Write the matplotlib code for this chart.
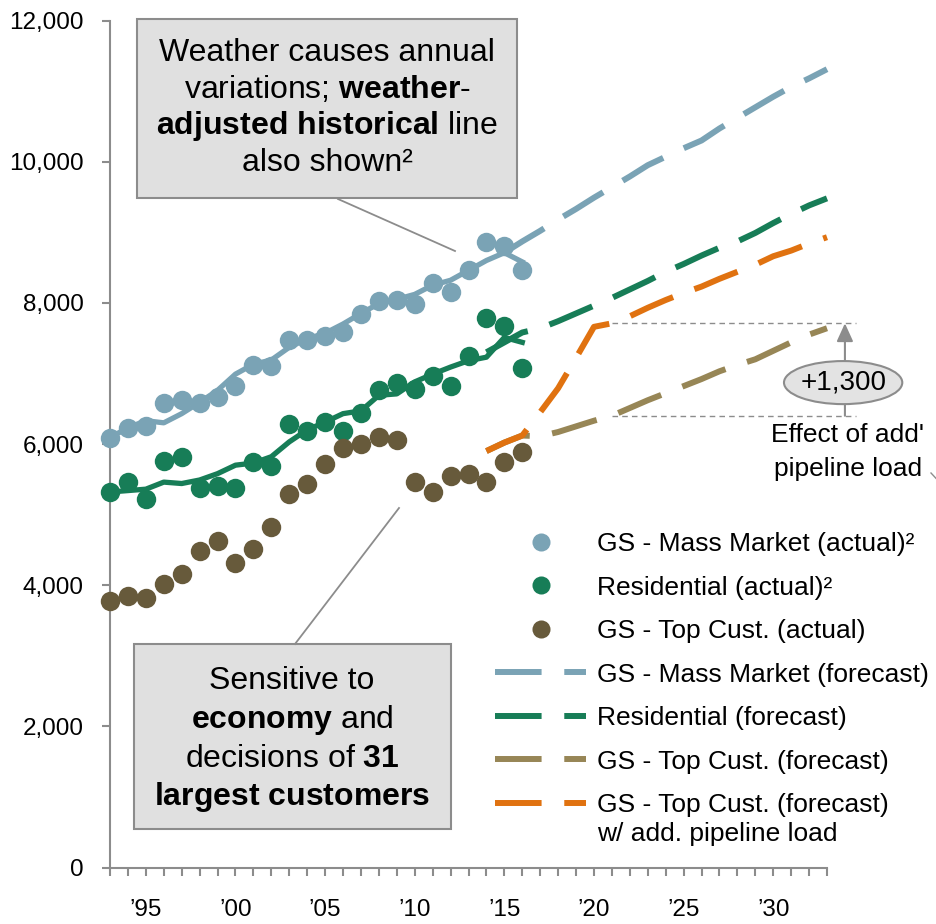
import numpy as np
import matplotlib.pyplot as plt
from matplotlib.lines import Line2D
from matplotlib.patches import Rectangle, Ellipse
from matplotlib.ticker import FuncFormatter

plt.rcParams['font.family'] = ['Liberation Sans', 'DejaVu Sans']
plt.rcParams['mathtext.fontset'] = 'custom'
plt.rcParams['mathtext.rm'] = 'Liberation Sans'
plt.rcParams['mathtext.bf'] = 'Liberation Sans:bold'
plt.rcParams['mathtext.it'] = 'Liberation Sans:italic'

# historical (1993-2016)
years_hist = list(range(1993, 2017))
mass_actual = [6090, 6220, 6250, 6580, 6630, 6580, 6670, 6820, 7120, 7100, 7470, 7470,
               7530, 7580, 7840, 8020, 8040, 7990, 8280, 8160, 8460, 8860, 8800, 8460]
mass_adj = [6090, 6230, 6330, 6300, 6430, 6590, 6760, 6990, 7130, 7190, 7370, 7490,
            7570, 7700, 7850, 7990, 8050, 8120, 8250, 8320, 8460, 8600, 8710, 8580]
res_actual = [5320, 5460, 5220, 5760, 5810, 5370, 5400, 5370, 5740, 5690, 6280, 6180,
              6310, 6190, 6440, 6760, 6860, 6780, 6960, 6820, 7240, 7780, 7670, 7070]
res_adj = [5320, 5340, 5360, 5460, 5440, 5490, 5580, 5700, 5730, 5820, 6030, 6200,
           6310, 6430, 6470, 6690, 6710, 6880, 6990, 7090, 7180, 7230, 7510, 7440]
top_actual = [3780, 3850, 3820, 4020, 4160, 4480, 4620, 4310, 4510, 4820, 5290, 5430,
              5720, 5950, 6000, 6100, 6060, 5460, 5320, 5550, 5580, 5460, 5740, 5880]

# forecasts
years_mass_fc = list(range(2015, 2034))
mass_fc = [8710, 8870, 9020, 9180, 9330, 9490, 9640, 9790, 9950, 10070, 10190, 10300,
           10470, 10620, 10770, 10920, 11060, 11180, 11310]
years_fc = list(range(2014, 2034))
res_fc = [7300, 7440, 7580, 7640, 7740, 7850, 7960, 8070, 8190, 8310, 8440, 8550,
          8670, 8780, 8870, 8990, 9130, 9260, 9380, 9480]
top_fc = [5900, 6020, 6120, 6110, 6170, 6250, 6330, 6400, 6510, 6620, 6720, 6820,
          6920, 7030, 7120, 7200, 7320, 7440, 7550, 7640]
pipe_fc = [5900, 6020, 6120, 6450, 6790, 7220, 7660, 7710, 7810, 7930, 8040, 8140,
           8230, 8340, 8440, 8540, 8660, 8740, 8840, 8930]

year_ticks = [1995, 2000, 2005, 2010, 2015, 2020, 2025, 2030]
year_labels = ['\u201995', '\u201900', '\u201905', '\u201910', '\u201915', '\u201920',
               '\u201925', '\u201930']

labels = ['GS - Mass Market (actual)\u00b2', 'Residential (actual)\u00b2',
          'GS - Top Cust. (actual)', 'GS - Mass Market (forecast)',
          'Residential (forecast)', 'GS - Top Cust. (forecast)',
          'GS - Top Cust. (forecast)']

C_MASS = '#7AA3B5'
C_RES = '#177D57'
C_TOP = '#675A3B'
C_TAN = '#978656'
C_PIPE = '#E07210'
GREY = '#8C8C8C'

W, H = 937, 924


def fpos(x, y):
    return x / W, 1 - y / H


fig = plt.figure(figsize=(W / 100, H / 100), dpi=100)
ax = fig.add_axes([110 / W, 1 - 867.5 / H, 717 / W, 847 / H])

MS = 14
LW_ADJ = 3.8
LW_FC = 4.3
DASH = (7.8, 3.8)

# forecasts
ax.plot(years_mass_fc, mass_fc, color=C_MASS, lw=LW_FC, dashes=DASH, zorder=3, clip_on=False)
ax.plot(years_fc, res_fc, color=C_RES, lw=LW_FC, dashes=DASH, zorder=3, clip_on=False)
ax.plot(years_fc, top_fc, color=C_TAN, lw=LW_FC, dashes=DASH, zorder=3, clip_on=False)
ax.plot(years_fc, pipe_fc, color=C_PIPE, lw=LW_FC, dashes=DASH, zorder=3.5, clip_on=False)

# actuals
ax.plot(years_hist, mass_actual, 'o', color=C_MASS, ms=MS, mec='none', zorder=4, clip_on=False)
ax.plot(years_hist, res_actual, 'o', color=C_RES, ms=MS, mec='none', zorder=4, clip_on=False)
ax.plot(years_hist, top_actual, 'o', color=C_TOP, ms=MS, mec='none', zorder=4, clip_on=False)

# weather-adjusted lines
ax.plot(years_hist, mass_adj, color=C_MASS, lw=LW_ADJ, zorder=5, clip_on=False)
ax.plot(years_hist, res_adj, color=C_RES, lw=LW_ADJ, zorder=5, clip_on=False)

ax.set_xlim(1993, 2033)
ax.set_ylim(0, 12000)
for s in ['top', 'right']:
    ax.spines[s].set_visible(False)
for s in ['left', 'bottom']:
    ax.spines[s].set_color(GREY)
    ax.spines[s].set_linewidth(1.5)
    ax.spines[s].set_zorder(2)

ax.set_yticks(range(0, 12001, 2000))
ax.yaxis.set_major_formatter(FuncFormatter(lambda v, p: f'{v:,.0f}'))
ax.set_xticks(year_ticks)
ax.set_xticklabels(year_labels)
ax.set_xticks(range(1993, 2034), minor=True)
ax.tick_params(axis='y', length=6, width=1.5, color=GREY, labelsize=17.5, pad=13)
ax.tick_params(axis='x', which='both', length=6, width=1.5, color=GREY, labelsize=17.5, pad=17)

# effect of pipeline load
i21 = years_fc.index(2021)
ax.plot([2021, 2034.6], [pipe_fc[i21]] * 2, color=GREY, lw=1, ls=(0, (4, 3)), clip_on=False, zorder=2)
ax.plot([2021, 2034.6], [top_fc[i21]] * 2, color=GREY, lw=1, ls=(0, (4, 3)), clip_on=False, zorder=2)
ax.annotate('', xy=(2034.0, pipe_fc[i21]), xytext=(2034.0, top_fc[i21]),
            arrowprops=dict(arrowstyle='-|>,head_length=1.1,head_width=0.5', color=GREY, lw=1.5,
                            shrinkA=0, shrinkB=0), annotation_clip=False, zorder=6)
ax.add_patch(Ellipse((2033.9, 6870), 6.6, 610, facecolor='#E3E3E3', edgecolor=GREY, lw=1.5,
                     clip_on=False, zorder=7))
ax.text(2033.9, 6870, '+1,300', ha='center', va='center', fontsize=20, zorder=8)

fig.text(*fpos(848, 442), "Effect of add'", ha='center', va='baseline', fontsize=19)
fig.text(*fpos(848, 476), 'pipeline load', ha='center', va='baseline', fontsize=19)
fig.add_artist(Line2D([931 / W, 945 / W], [1 - 473 / H, 1 - 488 / H], color=GREY, lw=1))

# callout boxes
fig.add_artist(Rectangle(fpos(137, 198), 380 / W, 179 / H, transform=fig.transFigure,
                         facecolor='#E0E0E0', edgecolor=GREY, lw=1.5))
top_lines = ['Weather causes annual', 'variations; $\\mathbf{weather}$-',
             '$\\mathbf{adjusted\\ historical}$ line', 'also shown\u00b2']
for txt, yb in zip(top_lines, [61, 98, 134, 171]):
    fig.text(*fpos(327, yb), txt, ha='center', va='baseline', fontsize=23)
fig.add_artist(Line2D([338 / W, 455 / W], [1 - 199 / H, 1 - 251 / H], color=GREY, lw=1.3))

fig.add_artist(Rectangle(fpos(134, 829), 317 / W, 185 / H, transform=fig.transFigure,
                         facecolor='#E0E0E0', edgecolor=GREY, lw=1.5))
bot_lines = ['Sensitive to', '$\\mathbf{economy}$ and', 'decisions of $\\mathbf{31}$',
             '$\\mathbf{largest\\ customers}$']
for txt, yb in zip(bot_lines, [689, 728, 767, 805]):
    fig.text(*fpos(292, yb), txt, ha='center', va='baseline', fontsize=23)
fig.add_artist(Line2D([295 / W, 399 / W], [1 - 644 / H, 1 - 508 / H], color=GREY, lw=1.3))

# legend
handles = [Line2D([], [], ls='none', marker='o', ms=13, color=c, mec='none')
           for c in [C_MASS, C_RES, C_TOP]]
handles += [Line2D([], [], color=c, lw=LW_FC, dashes=DASH) for c in [C_MASS, C_RES, C_TAN, C_PIPE]]
fig.legend(handles, labels, loc='upper left', bbox_to_anchor=fpos(495, 532), frameon=False,
           borderpad=0, borderaxespad=0, handlelength=3.45, handletextpad=0.42,
           labelspacing=0.74, fontsize=19)
fig.text(*fpos(597, 841), 'w/ add. pipeline load', ha='left', va='baseline', fontsize=19)

fig.savefig('out.png', dpi=100)
